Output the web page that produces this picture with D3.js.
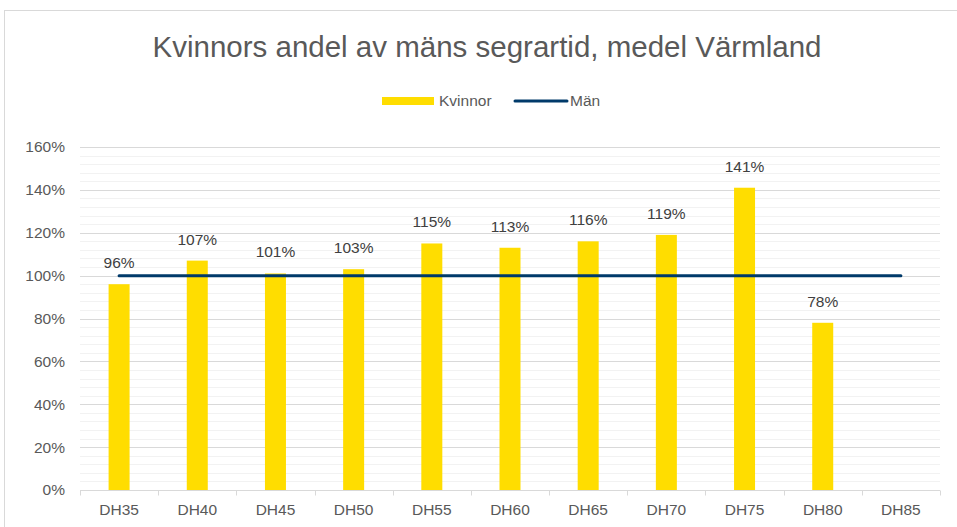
<!DOCTYPE html>
<html>
<head>
<meta charset="utf-8">
<script src="https://cdn.jsdelivr.net/npm/d3@7"></script>
<style>
  body { margin: 0; background: #fff; }
  svg { font-family: "Liberation Sans", Arial, sans-serif; }
</style>
</head>
<body>
<div id="chart"></div>
<script>
// Data
const categories = ['DH35', 'DH40', 'DH45', 'DH50', 'DH55', 'DH60', 'DH65', 'DH70', 'DH75', 'DH80', 'DH85'];
const kvinnor = [0.96, 1.07, 1.01, 1.03, 1.15, 1.13, 1.16, 1.19, 1.41, 0.78, null];
const man = [1, 1, 1, 1, 1, 1, 1, 1, 1, 1, 1];
const yTicks = [0, 0.2, 0.4, 0.6, 0.8, 1.0, 1.2, 1.4, 1.6];

const width = 957, height = 527;
const margin = { top: 147, right: 17, bottom: 37, left: 80 };

const yellow = '#FFDD00';
const navy = '#003A6A';
const fs = 15.5;

const svg = d3.select('#chart').append('svg')
    .attr('width', width)
    .attr('height', height);

// chart frame
svg.append('rect')
    .attr('x', 4.5).attr('y', 10.5)
    .attr('width', width + 10).attr('height', height + 10)
    .attr('fill', 'none')
    .attr('stroke', '#d9d9d9');

const x = d3.scaleBand()
    .domain(categories)
    .range([margin.left, width - margin.right])
    .paddingInner(0)
    .paddingOuter(0);

const y = d3.scaleLinear()
    .domain([0, 1.6])
    .range([height - margin.bottom, margin.top]);

// minor gridlines (every 4%)
const minor = d3.range(0, 1.6001, 0.04).filter(v => Math.round(v * 100) % 20 !== 0);
svg.append('g').selectAll('line')
    .data(minor)
    .join('line')
    .attr('x1', margin.left).attr('x2', width - margin.right)
    .attr('y1', d => Math.round(y(d)) + 0.5)
    .attr('y2', d => Math.round(y(d)) + 0.5)
    .attr('stroke', '#f2f2f2')
    .attr('stroke-width', 1);

// major gridlines
svg.append('g').selectAll('line')
    .data(yTicks.slice(1))
    .join('line')
    .attr('x1', margin.left).attr('x2', width - margin.right)
    .attr('y1', d => Math.round(y(d)) + 0.5)
    .attr('y2', d => Math.round(y(d)) + 0.5)
    .attr('stroke', '#d9d9d9')
    .attr('stroke-width', 1);

// y axis labels
svg.append('g').selectAll('text')
    .data(yTicks)
    .join('text')
    .attr('x', 65)
    .attr('y', d => y(d))
    .attr('dy', '0.35em')
    .attr('text-anchor', 'end')
    .attr('font-size', fs)
    .attr('fill', '#595959')
    .text(d => d3.format('.0%')(d));

// bars
const barW = 21;
svg.append('g').selectAll('rect')
    .data(categories.map((c, i) => ({ c, v: kvinnor[i] })).filter(d => d.v != null))
    .join('rect')
    .attr('x', d => x(d.c) + x.bandwidth() / 2 - barW / 2)
    .attr('y', d => y(d.v))
    .attr('width', barW)
    .attr('height', d => y(0) - y(d.v))
    .attr('fill', yellow);

// x axis
const xAxis = svg.append('g')
    .attr('transform', `translate(0,${Math.round(y(0)) + 0.5})`);
xAxis.append('line')
    .attr('x1', margin.left).attr('x2', width - margin.right)
    .attr('stroke', '#d9d9d9');
xAxis.selectAll('.tick')
    .data(categories.concat(['__end']))
    .join('line')
    .attr('x1', (d, i) => Math.round(margin.left + i * x.bandwidth()) + 0.5)
    .attr('x2', (d, i) => Math.round(margin.left + i * x.bandwidth()) + 0.5)
    .attr('y1', 0).attr('y2', 5)
    .attr('stroke', '#d9d9d9');
xAxis.selectAll('text')
    .data(categories)
    .join('text')
    .attr('x', d => x(d) + x.bandwidth() / 2)
    .attr('y', 24)
    .attr('text-anchor', 'middle')
    .attr('font-size', fs)
    .attr('fill', '#595959')
    .text(d => d);

// Män line
const line = d3.line()
    .x((d, i) => x(categories[i]) + x.bandwidth() / 2)
    .y(d => y(d));
svg.append('path')
    .datum(man)
    .attr('d', line)
    .attr('fill', 'none')
    .attr('stroke', navy)
    .attr('stroke-width', 3)
    .attr('stroke-linecap', 'round');

// data labels
svg.append('g').selectAll('text')
    .data(categories.map((c, i) => ({ c, v: kvinnor[i] })).filter(d => d.v != null))
    .join('text')
    .attr('x', d => x(d.c) + x.bandwidth() / 2)
    .attr('y', d => y(d.v) - 16)
    .attr('text-anchor', 'middle')
    .attr('font-size', fs)
    .attr('fill', '#404040')
    .text(d => Math.round(d.v * 100) + '%');

// title
svg.append('text')
    .attr('x', 487)
    .attr('y', 57)
    .attr('text-anchor', 'middle')
    .attr('font-size', 29.5)
    .attr('fill', '#595959')
    .text('Kvinnors andel av mäns segrartid, medel Värmland');

// legend
const legend = svg.append('g');
legend.append('rect')
    .attr('x', 382).attr('y', 97)
    .attr('width', 52).attr('height', 8)
    .attr('fill', yellow);
legend.append('text')
    .attr('x', 439).attr('y', 101)
    .attr('dy', '0.35em')
    .attr('font-size', fs)
    .attr('fill', '#595959')
    .text('Kvinnor');
legend.append('line')
    .attr('x1', 515).attr('x2', 567)
    .attr('y1', 101).attr('y2', 101)
    .attr('stroke', navy)
    .attr('stroke-width', 3)
    .attr('stroke-linecap', 'round');
legend.append('text')
    .attr('x', 570).attr('y', 101)
    .attr('dy', '0.35em')
    .attr('font-size', fs)
    .attr('fill', '#595959')
    .text('Män');
</script>
</body>
</html>
